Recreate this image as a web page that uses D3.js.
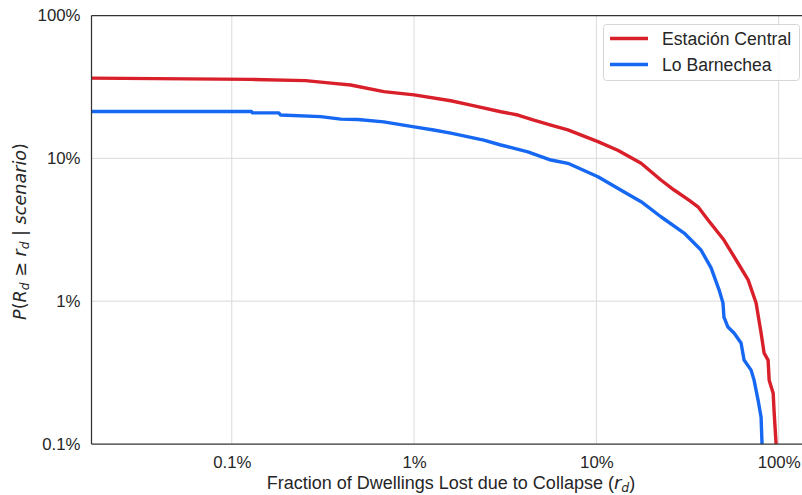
<!DOCTYPE html>
<html>
<head>
<meta charset="utf-8">
<script src="https://cdn.jsdelivr.net/npm/d3@7/dist/d3.min.js"></script>
<style>
  html, body { margin: 0; padding: 0; background: #fff; }
  svg { display: block; }
  text { fill: #262626; }
</style>
</head>
<body>
<svg id="chart" width="802" height="495"></svg>
<script>
// Exceedance curves: fraction of dwellings lost (%) vs P(R_d >= r_d) (%)
const seriesNames = ["Estación Central", "Lo Barnechea"];
const seriesColors = ["#d81f2a", "#1668f2"];

const estacionLoss = [0.015, 0.127, 0.254, 0.362, 0.449, 0.682, 1.0, 1.59, 2.05, 2.99, 3.71, 4.54, 5.63, 6.98, 10.2, 13.1, 17.6, 22.6, 26.7, 32.2, 36.1, 41.0, 50.1, 59.8, 68.0, 75.2, 80.1, 83.2, 87.5, 88.7, 93.3, 94.5, 96.9];
const estacionProb = [36.5, 35.7, 35.0, 33.5, 32.6, 29.3, 27.8, 25.3, 23.6, 21.2, 20.1, 18.5, 17.1, 15.8, 13.1, 11.4, 9.23, 7.05, 6.0, 5.10, 4.58, 3.70, 2.68, 1.85, 1.41, 0.970, 0.598, 0.433, 0.387, 0.280, 0.227, 0.165, 0.098];

const barnecheaLoss = [0.015, 0.128, 0.130, 0.181, 0.185, 0.307, 0.396, 0.491, 0.682, 1.0, 1.28, 1.59, 2.41, 2.99, 4.21, 5.63, 6.98, 10.2, 14.6, 17.6, 22.6, 30.3, 37.5, 42.6, 47.1, 49.5, 50.1, 52.7, 56.9, 62.2, 64.6, 70.6, 73.3, 77.1, 80.1, 81.1];
const barnecheaProb = [21.3, 21.3, 20.8, 20.8, 20.1, 19.6, 18.8, 18.7, 18.0, 16.6, 15.8, 15.0, 13.4, 12.4, 11.1, 9.73, 9.23, 7.43, 5.69, 4.97, 3.90, 3.00, 2.28, 1.71, 1.20, 0.970, 0.774, 0.659, 0.598, 0.509, 0.387, 0.329, 0.280, 0.203, 0.154, 0.098];

const xTicks = [0.1, 1, 10, 100];
const xTickLabels = ["0.1%", "1%", "10%", "100%"];
const yTicks = [0.1, 1, 10, 100];
const yTickLabels = ["0.1%", "1%", "10%", "100%"];

const svg = d3.select("#chart");
const margin = { left: 91.5, top: 15.5, right: 803, bottom: 444 };

const x = d3.scaleLog().domain([0.0170, 136]).range([margin.left, margin.right]);
const y = d3.scaleLog().domain([0.1, 100]).range([margin.bottom, margin.top]);

// clip to plot area
svg.append("defs").append("clipPath").attr("id", "plotClip")
  .append("rect")
  .attr("x", margin.left).attr("y", margin.top)
  .attr("width", margin.right - margin.left).attr("height", margin.bottom - margin.top);

// grid
const grid = svg.append("g");
grid.selectAll(".vg").data(xTicks).join("line")
  .attr("x1", d => x(d)).attr("x2", d => x(d))
  .attr("y1", margin.top).attr("y2", margin.bottom)
  .attr("stroke", "#dadada").attr("stroke-width", 1);
grid.selectAll(".hg").data(yTicks.filter(d => d > 0.1 && d < 100)).join("line")
  .attr("x1", margin.left).attr("x2", margin.right)
  .attr("y1", d => y(d)).attr("y2", d => y(d))
  .attr("stroke", "#dadada").attr("stroke-width", 1);

// axes with tick labels only
const xAxis = d3.axisBottom(x).tickValues(xTicks)
  .tickFormat((d, i) => xTickLabels[i]).tickSize(0).tickPadding(12);
const gx = svg.append("g").attr("transform", `translate(0,${margin.bottom})`).call(xAxis);
gx.select(".domain").remove();
gx.selectAll("text").attr("font-family", "Liberation Sans, Arial, sans-serif")
  .attr("font-size", 16.8).attr("fill", "#262626");

const yAxis = d3.axisLeft(y).tickValues(yTicks)
  .tickFormat((d, i) => yTickLabels[i]).tickSize(0).tickPadding(11);
const gy = svg.append("g").attr("transform", `translate(${margin.left},0)`).call(yAxis);
gy.select(".domain").remove();
gy.selectAll("text").attr("font-family", "Liberation Sans, Arial, sans-serif")
  .attr("font-size", 16.8).attr("fill", "#262626");

// curves
const line = d3.line().x(d => x(d[0])).y(d => y(d[1]));
const series = [
  d3.zip(estacionLoss, estacionProb),
  d3.zip(barnecheaLoss, barnecheaProb)
];
svg.append("g").attr("clip-path", "url(#plotClip)")
  .selectAll("path").data(series).join("path")
  .attr("d", line)
  .attr("fill", "none")
  .attr("stroke", (d, i) => seriesColors[i])
  .attr("stroke-width", 3.4)
  .attr("stroke-linejoin", "round");

// spines
const spine = svg.append("g").attr("stroke", "#333").attr("stroke-width", 1.25);
spine.append("line").attr("x1", margin.left).attr("x2", margin.left).attr("y1", margin.top).attr("y2", margin.bottom);
spine.append("line").attr("x1", margin.left).attr("x2", margin.right).attr("y1", margin.bottom).attr("y2", margin.bottom);
spine.append("line").attr("x1", margin.left).attr("x2", margin.right).attr("y1", margin.top).attr("y2", margin.top);

// x label
const xl = svg.append("text")
  .attr("x", 451).attr("y", 489)
  .attr("text-anchor", "middle")
  .attr("font-family", "Liberation Sans, Arial, sans-serif")
  .attr("font-size", 18);
xl.append("tspan").text("Fraction of Dwellings Lost due to Collapse (");
xl.append("tspan").attr("font-family", "DejaVu Sans").attr("font-style", "italic").text("r");
xl.append("tspan").attr("font-family", "DejaVu Sans").attr("font-style", "italic")
  .attr("font-size", 12.5).attr("dy", 3).text("d");
xl.append("tspan").attr("dy", -3).text(")");

// y label
const yl = svg.append("text")
  .attr("transform", "translate(26,231.5) rotate(-90)")
  .attr("text-anchor", "middle")
  .attr("font-family", "DejaVu Sans, sans-serif")
  .attr("font-size", 17.6);
yl.append("tspan").attr("font-style", "italic").text("P");
yl.append("tspan").text("(");
yl.append("tspan").attr("font-style", "italic").text("R");
yl.append("tspan").attr("font-style", "italic").attr("font-size", 12.2).attr("dy", 3).text("d");
yl.append("tspan").attr("dy", -3).text(" ≥ ");
yl.append("tspan").attr("font-style", "italic").text("r");
yl.append("tspan").attr("font-style", "italic").attr("font-size", 12.2).attr("dy", 3).text("d");
yl.append("tspan").attr("dy", -3).text(" | ");
yl.append("tspan").attr("font-style", "italic").text("scenario");
yl.append("tspan").text(")");

// legend
const legend = svg.append("g");
legend.append("rect")
  .attr("x", 603.5).attr("y", 24.5).attr("width", 196).attr("height", 56)
  .attr("rx", 3).attr("fill", "#fff").attr("fill-opacity", 0.85)
  .attr("stroke", "#d6d6d6").attr("stroke-width", 1);
seriesNames.forEach((name, i) => {
  const cy = 38.5 + i * 26;
  legend.append("line")
    .attr("x1", 610).attr("x2", 648).attr("y1", cy).attr("y2", cy)
    .attr("stroke", seriesColors[i]).attr("stroke-width", 3.4);
  legend.append("text")
    .attr("x", 662).attr("y", cy + 6)
    .attr("font-family", "Liberation Sans, Arial, sans-serif")
    .attr("font-size", 17.6)
    .text(name);
});
</script>
</body>
</html>
